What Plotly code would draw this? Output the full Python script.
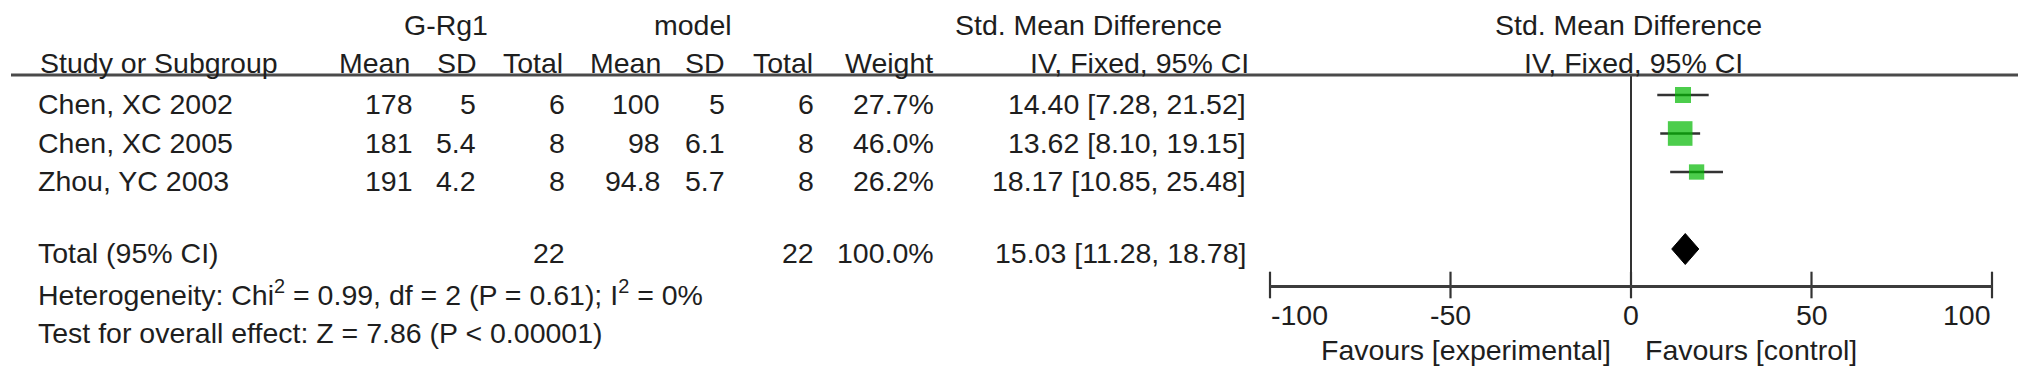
import plotly.graph_objects as go

# ---------------- data ----------------
studies = ["Chen, XC 2002", "Chen, XC 2005", "Zhou, YC 2003"]
exp_mean = [178, 181, 191]
exp_sd = [5, 5.4, 4.2]
exp_total = [6, 8, 8]
ctl_mean = [100, 98, 94.8]
ctl_sd = [5, 6.1, 5.7]
ctl_total = [6, 8, 8]
weight = [27.7, 46.0, 26.2]
smd = [14.40, 13.62, 18.17]
ci_low = [7.28, 8.10, 10.85]
ci_high = [21.52, 19.15, 25.48]

pooled_label = "Total (95% CI)"
pooled_exp_total = 22
pooled_ctl_total = 22
pooled_weight = 100.0
pooled_smd = 15.03
pooled_low = 11.28
pooled_high = 18.78

heterogeneity = "Heterogeneity: Chi<sup>2</sup> = 0.99, df = 2 (P = 0.61); I<sup>2</sup> = 0%"
overall_effect = "Test for overall effect: Z = 7.86 (P < 0.00001)"
group_labels = ["G-Rg1", "model"]
col_headers = ["Mean", "SD", "Total", "Mean", "SD", "Total", "Weight", "IV, Fixed, 95% CI"]
study_header = "Study or Subgroup"
effect_title = "Std. Mean Difference"
effect_method = "IV, Fixed, 95% CI"
axis_ticks = [-100, -50, 0, 50, 100]
favours_left = "Favours [experimental]"
favours_right = "Favours [control]"

# ---------------- geometry (pixels) ----------------
W, H = 2031, 378
ROW0_PX, ROW_PX = 95, 38.5
AXIS_PX, RULE_PX = 285, 75
X_LEFT_PX, X_RIGHT_PX = 1270, 1992


def fx(p):
    return p / W


def fy(p):
    return 1 - p / H


def row_of(p):
    return (p - ROW0_PX) / ROW_PX


FS = 28.5
FONT = dict(family="Liberation Sans, Arial, sans-serif", size=FS, color="#1e1e1e")
STUDY_TEXT_SHIFT = -9
POOLED_TEXT_SHIFT = -4

STUDY_LEFT = 37
COL_RIGHT = [414, 477, 566, 661, 726, 815, 935, 1247]
HDR_RIGHT = [411, 478, 564, 662, 726, 814, 934, 1250]
GROUP_CENTER = [446, 693]
LEFT_TITLE_CENTER = 1088
HDR1_PX, HDR2_PX = 25, 63
HET_PX, TEST_PX = 293, 333
TICKLBL_PX, FAV_PX = 315, 350


def note(text, x, y, xanchor, xref="paper", yref="paper", xshift=0, yshift=0):
    return dict(text=text, x=x, y=y, xref=xref, yref=yref, xanchor=xanchor,
                yanchor="middle", showarrow=False, font=FONT,
                xshift=xshift, yshift=yshift, borderpad=0)


def fmt(v):
    return f"{v:g}"


anns = []
# header line 1
for lbl, cx in zip(group_labels, GROUP_CENTER):
    anns.append(note(lbl, fx(cx), fy(HDR1_PX), "center"))
anns.append(note(effect_title, fx(LEFT_TITLE_CENTER), fy(HDR1_PX), "center"))
anns.append(note(effect_title, 0, fy(HDR1_PX), "center", xref="x", xshift=-3))
# header line 2
anns.append(note(study_header, fx(STUDY_LEFT + 2), fy(HDR2_PX), "left"))
for lbl, rx in zip(col_headers, HDR_RIGHT):
    anns.append(note(lbl, fx(rx), fy(HDR2_PX), "right"))
anns.append(note(effect_method, 0, fy(HDR2_PX), "center", xref="x", xshift=2))

# study rows
for i, s in enumerate(studies):
    vals = [fmt(exp_mean[i]), fmt(exp_sd[i]), fmt(exp_total[i]),
            fmt(ctl_mean[i]), fmt(ctl_sd[i]), fmt(ctl_total[i]),
            f"{weight[i]:.1f}%", f"{smd[i]:.2f} [{ci_low[i]:.2f}, {ci_high[i]:.2f}]"]
    anns.append(note(s, fx(STUDY_LEFT), i, "left", yref="y", yshift=STUDY_TEXT_SHIFT))
    for v, rx in zip(vals, COL_RIGHT):
        anns.append(note(v, fx(rx), i, "right", yref="y", yshift=STUDY_TEXT_SHIFT))

# pooled row
pooled_row = len(studies) + 1
anns.append(note(pooled_label, fx(STUDY_LEFT), pooled_row, "left", yref="y",
                 yshift=POOLED_TEXT_SHIFT))
pooled_vals = {2: fmt(pooled_exp_total), 5: fmt(pooled_ctl_total),
               6: f"{pooled_weight:.1f}%",
               7: f"{pooled_smd:.2f} [{pooled_low:.2f}, {pooled_high:.2f}]"}
for k, v in pooled_vals.items():
    anns.append(note(v, fx(COL_RIGHT[k]), pooled_row, "right", yref="y",
                     yshift=POOLED_TEXT_SHIFT))

# footer
anns.append(note(heterogeneity, fx(STUDY_LEFT), fy(HET_PX), "left"))
anns.append(note(overall_effect, fx(STUDY_LEFT), fy(TEST_PX), "left"))

# axis tick labels
for j, t in enumerate(axis_ticks):
    anchor = "left" if j == 0 else ("right" if j == len(axis_ticks) - 1 else "center")
    anns.append(note(str(t), t, fy(TICKLBL_PX), anchor, xref="x"))
anns.append(note(favours_left, 0, fy(FAV_PX), "right", xref="x", xshift=-19))
anns.append(note(favours_right, 0, fy(FAV_PX), "left", xref="x", xshift=13))

# ---------------- traces ----------------
fig = go.Figure()

# study squares with CI lines
fig.add_trace(go.Scatter(
    x=smd, y=list(range(len(studies))), mode="markers",
    marker=dict(symbol="square", color="#00b800",
                size=[0.47 * w + 3 for w in weight], line=dict(width=0)),
    error_x=dict(type="data", symmetric=False,
                 array=[h - m for h, m in zip(ci_high, smd)],
                 arrayminus=[m - l for m, l in zip(smd, ci_low)],
                 color="#333333", thickness=2.5, width=0),
    hoverinfo="skip", showlegend=False, cliponaxis=False))

# pooled diamond
half_h = 15.5 / ROW_PX
fig.add_trace(go.Scatter(
    x=[pooled_low, pooled_smd, pooled_high, pooled_smd, pooled_low],
    y=[pooled_row, pooled_row - half_h, pooled_row, pooled_row + half_h, pooled_row],
    mode="lines", fill="toself", fillcolor="#000000",
    line=dict(color="#000000", width=1), hoverinfo="skip", showlegend=False))

# axis tick marks crossing the axis line
fig.add_trace(go.Scatter(
    x=axis_ticks, y=[row_of(AXIS_PX)] * len(axis_ticks), mode="markers",
    marker=dict(symbol="line-ns", size=19, line=dict(color="#333333", width=2.2)),
    hoverinfo="skip", showlegend=False, cliponaxis=False))

fig.update_layout(
    width=W, height=H,
    margin=dict(l=0, r=0, t=0, b=0),
    paper_bgcolor="white", plot_bgcolor="rgba(0,0,0,0)",
    xaxis=dict(domain=[fx(X_LEFT_PX), fx(X_RIGHT_PX)], range=[axis_ticks[0], axis_ticks[-1]],
               showline=True, linecolor="#3c3c3c", linewidth=3,
               ticks="", showticklabels=False, showgrid=False,
               zeroline=True, zerolinecolor="#333333", zerolinewidth=2,
               fixedrange=True),
    yaxis=dict(domain=[fy(AXIS_PX), fy(RULE_PX)],
               range=[row_of(AXIS_PX), row_of(RULE_PX)],
               visible=False, showgrid=False, zeroline=False, fixedrange=True),
    annotations=anns,
    shapes=[dict(type="line", xref="paper", yref="paper",
                 x0=fx(11), x1=fx(2018), y0=fy(RULE_PX), y1=fy(RULE_PX),
                 line=dict(color="#4a4a4a", width=3))],
)

fig.write_html("out.html", include_plotlyjs=True, full_html=True,
               config={"displayModeBar": False, "staticPlot": True},
               post_script="document.body.style.margin='0';document.body.style.overflow='hidden';")
